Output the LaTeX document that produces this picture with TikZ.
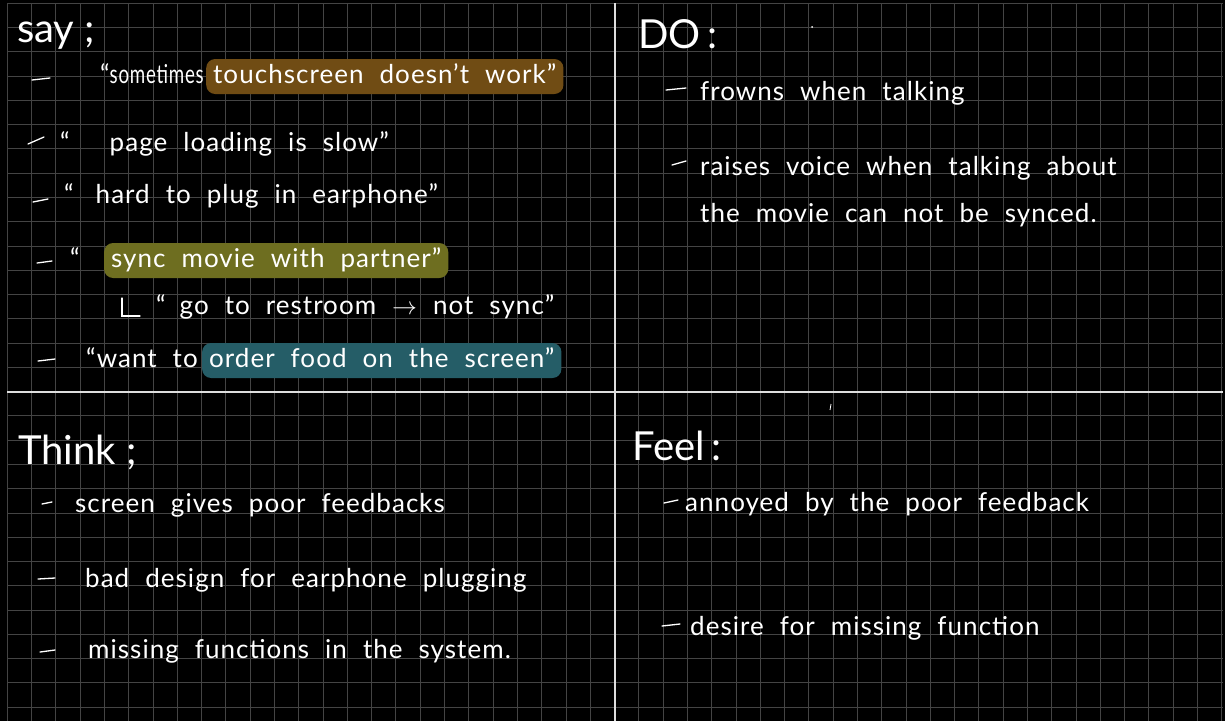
\documentclass[tikz,border=0pt]{standalone}
\usepackage{graphicx}
\usepackage{fontspec}
\setmainfont{Lato}
\usetikzlibrary{positioning}

\definecolor{gridgrey}{RGB}{68,68,68}
\definecolor{rulewhite}{RGB}{222,222,222}
\definecolor{hlbrown}{RGB}{112,76,20}
\definecolor{hlolive}{RGB}{110,110,32}
\definecolor{hlteal}{RGB}{37,93,103}

\newcommand{\widespace}{\spaceskip=16pt plus 2pt\relax}

\begin{document}
\begin{tikzpicture}[x=1pt, y=-1pt,
    heading/.style={anchor=base west, text=white, inner sep=0pt, font=\fontsize{40}{46}\selectfont},
    item/.style={anchor=base west, text=white, inner sep=0pt,
        font=\fontsize{26}{30}\selectfont\addfontfeature{LetterSpace=4},
        execute at begin node=\widespace},
    hilite/.style={fill=#1, rounded corners=9pt, text height=19pt, text depth=6pt, inner xsep=7pt, inner ysep=5pt},
    bullet/.style={white, line width=1.3pt, line cap=round}]

    % Black page with grid
    \fill[black] (0,0) rectangle (1225,721);
    \useasboundingbox (0,0) rectangle (1225,721);
    \foreach \i in {0,...,50} {
        \draw[gridgrey, line width=0.9pt] ({7.3+24.29*\i},3.3) -- ({7.3+24.29*\i},721);
    }
    \foreach \j in {0,...,29} {
        \draw[gridgrey, line width=0.9pt] (7.3,{3.3+24.27*\j}) -- (1222.8,{3.3+24.27*\j});
    }

    % Quadrant dividers
    \draw[rulewhite, line width=1.8pt] (614.6,3.3) -- (614.6,721);
    \draw[rulewhite, line width=1.8pt] (7.3,391.6) -- (1222.8,391.6);

    % Say
    \node[heading] (sayhead) at (17,42) {say ;};
    \node[item] (say1) at (100,83) {“\scalebox{0.72}[1]{sometimes}};
    \node[item, hilite=hlbrown, base right=2pt of say1] (say1hl) {touchscreen doesn’t work”};
    \node[item] (say2) at (60,151) {“\hspace{40pt}page loading is slow”};
    \node[item] (say3) at (64,203) {“\hspace{22pt}hard to plug in earphone”};
    \node[item] (say4) at (70,267) {“};
    \node[item, hilite=hlolive, base right=24pt of say4] (say4hl) {sync movie with partner”};
    \node[item] (say5) at (156,314) {“\hspace{14pt}go to restroom \ensuremath{\rightarrow} not sync”};
    \node[item] (say6) at (86,367) {“want to};
    \node[item, hilite=hlteal, base right=4pt of say6] (say6hl) {order food on the screen”};
    \draw[bullet] (122,298) -- (122,316) -- (140,316);

    % Do
    \node[heading] (dohead) at (638,48) {DO\,:};
    \node[item] (do1) at (700,100) {frowns when talking};
    \node[item] (do2) at (700,175) {raises voice when talking about};
    \node[item] (do3) at (700,222) {the movie can not be synced.};

    % Think
    \node[heading] (thinkhead) at (18,464) {Think ;};
    \node[item] (think1) at (75,512) {screen gives poor feedbacks};
    \node[item] (think2) at (85,587) {bad design for earphone plugging};
    \node[item] (think3) at (88,658) {missing functions in the system.};

    % Feel
    \node[heading] (feelhead) at (632,460) {Feel\,:};
    \node[item] (feel1) at (685,511) {annoyed by the poor feedback};
    \node[item] (feel2) at (690,635) {desire for missing function};

    % Bullet dashes
    \draw[bullet] (32,80) -- (50,78);
    \draw[bullet] (28,144) -- (44,137);
    \draw[bullet] (33,202) -- (48,199);
    \draw[bullet] (37,263) -- (52,261);
    \draw[bullet] (38,361) -- (55,359);
    \draw[bullet] (666,90) -- (686,88);
    \draw[bullet] (672,165) -- (686,161);
    \draw[bullet] (42,504) -- (52,502);
    \draw[bullet] (38,579) -- (55,578);
    \draw[bullet] (40,652) -- (55,650);
    \draw[bullet] (664,503) -- (678,500);
    \draw[bullet] (662,626) -- (680,624);

    % Stray marks
    \fill[white] (812,27) circle (1pt);
    \draw[white, line width=0.8pt] (831,404) -- (830,410);
\end{tikzpicture}
\end{document}
